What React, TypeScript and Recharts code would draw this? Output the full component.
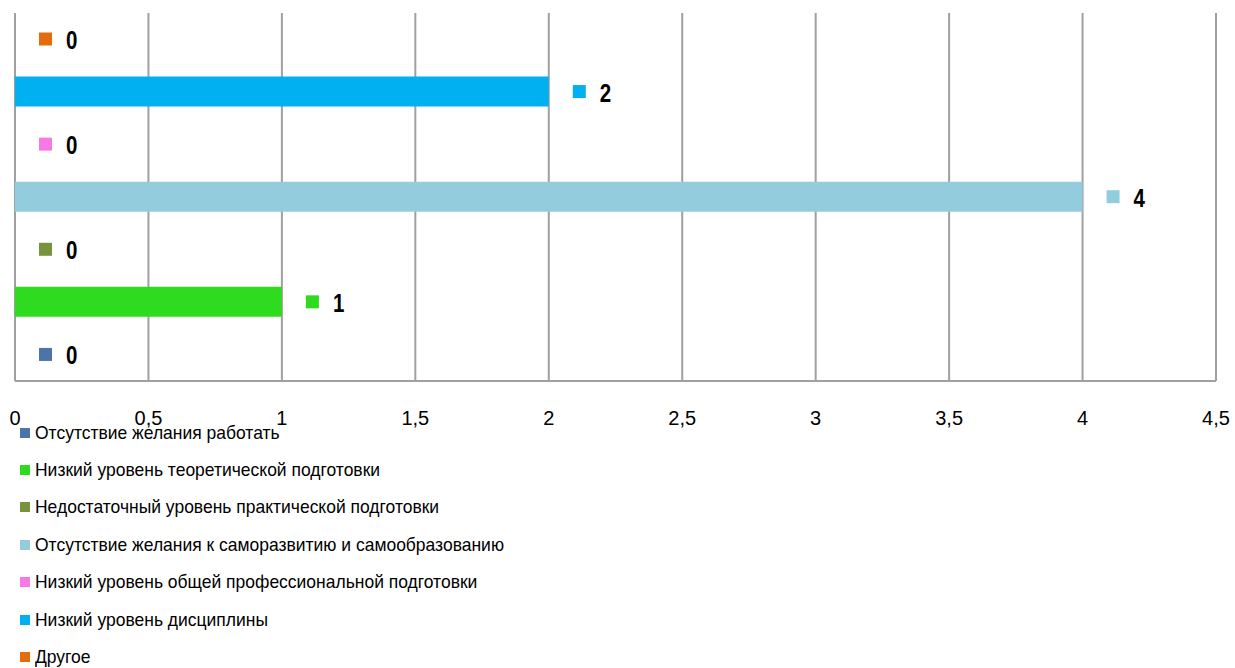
import React from "react";
import {
  BarChart,
  Bar,
  XAxis,
  YAxis,
  CartesianGrid,
  Legend,
  LabelList,
} from "recharts";

const categories = ["Причины"];
const seriesNames = [
  "Отсутствие желания работать",
  "Низкий уровень теоретической подготовки",
  "Недостаточный уровень практической подготовки",
  "Отсутствие желания к саморазвитию и самообразованию",
  "Низкий уровень общей профессиональной подготовки",
  "Низкий уровень дисциплины",
  "Другое",
];
const seriesValues = [0, 1, 0, 4, 0, 2, 0];
const xTicks = [0, 0.5, 1, 1.5, 2, 2.5, 3, 3.5, 4, 4.5];

const COLORS = [
  "#4a74aa",
  "#2edb1f",
  "#77933c",
  "#93cddd",
  "#f779e6",
  "#00b0f0",
  "#e46c0a",
];

const W = 1235;
const H = 668;
const SANS = "'Liberation Sans', Arial, sans-serif";
const SQUEEZE = 0.82;

const data = categories.map((name) => {
  const row: Record<string, string | number> = { name };
  seriesNames.forEach((_, i) => {
    row[`s${i}`] = seriesValues[i];
  });
  return row;
});

const makeLabel = (color: string) => (props: any) => {
  const { x, y, width, height, value } = props;
  const end = Number(x) + Number(width);
  const cy = Number(y) + Number(height) / 2;
  return (
    <g>
      <rect x={end + 24} y={cy - 6.5} width={13} height={13} fill={color} />
      <text
        transform={`translate(${end + 51}, ${cy + 10}) scale(${SQUEEZE}, 1)`}
        fontFamily={SANS}
        fontWeight="bold"
        fontSize={25}
        fill="#000"
      >
        {value}
      </text>
    </g>
  );
};

const LegendBox = () => (
  <div style={{ fontFamily: SANS, fontSize: 19, color: "#000" }}>
    {seriesNames.map((n, i) => (
      <div
        key={n}
        style={{ height: 37.4, display: "flex", alignItems: "center" }}
      >
        <span
          style={{
            display: "inline-block",
            width: 10,
            height: 10,
            background: COLORS[i],
            marginRight: 5,
            flex: "none",
          }}
        />
        <span
          style={{
            display: "inline-block",
            whiteSpace: "nowrap",
            transform: "scaleX(0.92)",
            transformOrigin: "left center",
          }}
        >
          {n}
        </span>
      </div>
    ))}
  </div>
);

const order = seriesNames.map((_, i) => i).reverse();

export default function App() {
  return (
    <div style={{ position: "absolute", left: 0, top: 0, background: "#fff" }}>
      <BarChart
        width={W}
        height={H}
        data={data}
        layout="vertical"
        margin={{ top: 13, right: 19, left: 15, bottom: 257 }}
        barSize={30}
        barGap={368 / 7 - 30}
        barCategoryGap={0}
      >
        <CartesianGrid horizontal={false} stroke="#a0a0a0" strokeWidth={2} />
        <XAxis
          type="number"
          domain={[0, 4.5]}
          ticks={xTicks}
          interval={0}
          height={30}
          tickLine={false}
          axisLine={{ stroke: "#a0a0a0", strokeWidth: 2 }}
          tickSize={0}
          tickMargin={30}
          tickFormatter={(v: number) => String(v).replace(".", ",")}
          tick={{ fill: "#000", fontSize: 20, fontFamily: SANS }}
        />
        <YAxis type="category" dataKey="name" hide />
        {order.map((i) => (
          <Bar
            key={i}
            dataKey={`s${i}`}
            name={seriesNames[i]}
            fill={COLORS[i]}
            minPointSize={0.01}
            isAnimationActive={false}
          >
            <LabelList dataKey={`s${i}`} content={makeLabel(COLORS[i])} />
          </Bar>
        ))}
        <Legend
          layout="vertical"
          align="center"
          verticalAlign="middle"
          wrapperStyle={{ left: 20, top: 414, width: 700 }}
          content={() => <LegendBox />}
        />
      </BarChart>
    </div>
  );
}
